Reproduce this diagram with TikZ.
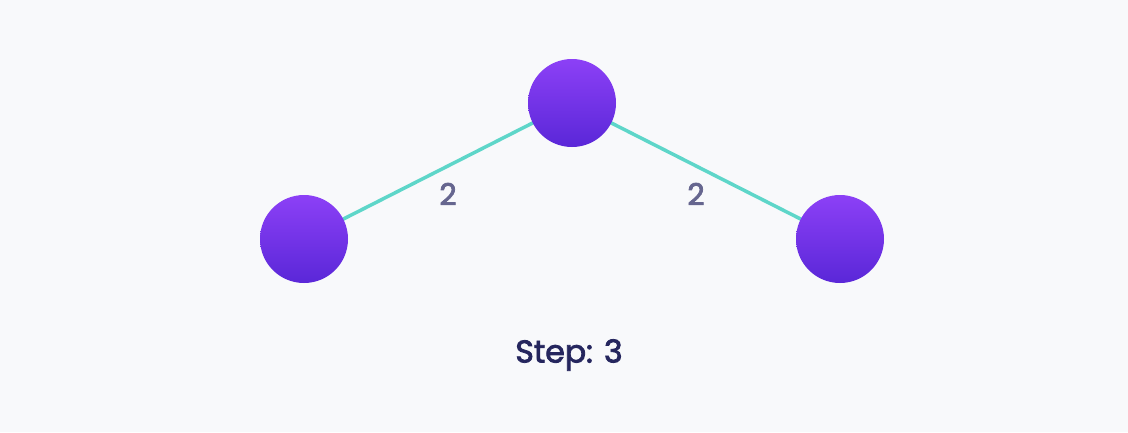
\documentclass[tikz,border=0pt]{standalone}
\usepackage{fontspec}
\setmainfont{Poppins}
\newfontfamily\medfont{Poppins}[FakeBold=2.6]
\definecolor{bg}{HTML}{F8F9FB}
\definecolor{edgec}{HTML}{5ED6C9}
\definecolor{topc}{HTML}{8C40F6}
\definecolor{botc}{HTML}{5A27D8}
\definecolor{lblc}{HTML}{66668F}
\definecolor{stepc}{HTML}{25265E}
\tikzset{
  vert/.style={circle, minimum size=88pt, inner sep=0pt, top color=topc, bottom color=botc, draw=none},
  conn/.style={draw=edgec, line width=3.5pt},
  wlabel/.style={text=lblc, font=\medfont\fontsize{30}{30}\selectfont, inner sep=0pt},
  steplabel/.style={text=stepc, font=\medfont\fontsize{31.5}{31.5}\selectfont, inner sep=0pt}
}
\begin{document}
\begin{tikzpicture}[x=1pt,y=-1pt]
\fill[bg] (0,0) rectangle (1128,432);
\useasboundingbox (0,0) rectangle (1128,432);
\coordinate (ct) at (572,103);
\coordinate (cl) at (304,239);
\coordinate (cr) at (840,239);
\draw[conn] (cl) -- (ct);
\draw[conn] (ct) -- (cr);
\node[vert] (t) at (ct) {};
\node[vert] (l) at (cl) {};
\node[vert] (r) at (cr) {};
\node[wlabel] (w1) at (448,194) {2};
\node[wlabel] (w2) at (696,194) {2};
\node[steplabel] (s) at (569,355) {Step: 3};
\end{tikzpicture}
\end{document}
